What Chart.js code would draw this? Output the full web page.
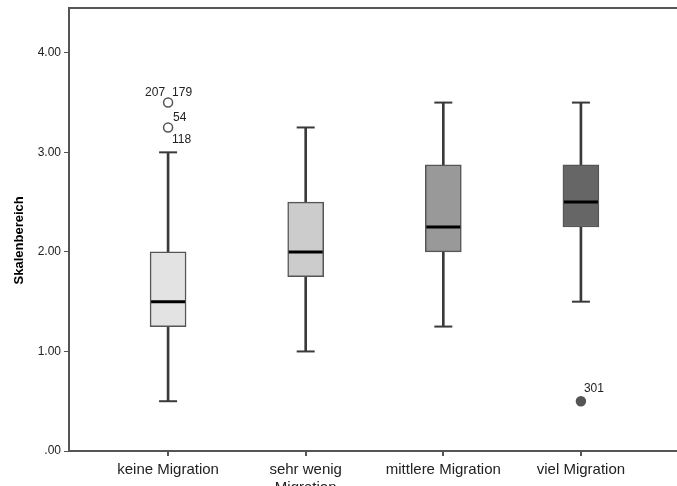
<!DOCTYPE html>
<html>
<head>
<meta charset="utf-8">
<script src="https://cdn.jsdelivr.net/npm/chart.js@4.4.0/dist/chart.umd.min.js"></script>
<style>
  html, body { margin: 0; padding: 0; background: #fff; overflow: hidden; }
  canvas { display: block; margin-top: -12px; }
</style>
</head>
<body>
<canvas id="boxChart" width="700" height="512"></canvas>
<script>
// Categories and box plot statistics
const categories = ['keine Migration', ['sehr wenig', 'Migration'], 'mittlere Migration', 'viel Migration'];
const mins    = [0.50, 1.00, 1.25, 1.50];
const q1s     = [1.25, 1.75, 2.00, 2.25];
const medians = [1.50, 2.00, 2.25, 2.50];
const q3s     = [2.00, 2.50, 2.875, 2.875];
const maxs    = [3.00, 3.25, 3.50, 3.50];

// Outliers: category index, value, case labels
const outlierCats   = [0, 0, 3];
const outlierValues = [3.50, 3.25, 0.50];
const outlierLabels = [['207', '179'], ['54', '118'], ['301']];

const yTicks = [0, 1, 2, 3, 4];
const yTickLabels = ['.00', '1.00', '2.00', '3.00', '4.00'];

const boxColors = ['#e3e3e3', '#cccccc', '#999999', '#666666'];

Chart.defaults.font.family = '"Liberation Sans", Arial, sans-serif';
Chart.defaults.color = '#222';

const pts = vals => vals.map((v, i) => ({ x: i, y: v }));

// top frame line of the plot area
const topFrame = {
    id: 'topFrame',
    beforeDatasetsDraw(chart) {
        const { ctx, chartArea } = chart;
        ctx.save();
        ctx.strokeStyle = '#555';
        ctx.lineWidth = 2;
        ctx.beginPath();
        ctx.moveTo(chartArea.left - 1, chartArea.top);
        ctx.lineTo(chartArea.right, chartArea.top);
        ctx.stroke();
        ctx.restore();
    }
};

// draws the case numbers next to the outlier circles
const outlierText = {
    id: 'outlierText',
    afterDatasetsDraw(chart) {
        const { ctx, scales } = chart;
        ctx.save();
        ctx.font = '12px "Liberation Sans", Arial, sans-serif';
        ctx.fillStyle = '#222';
        ctx.textBaseline = 'middle';
        outlierValues.forEach((v, i) => {
            const px = scales.x.getPixelForValue(outlierCats[i]);
            const py = scales.y.getPixelForValue(v);
            const labels = outlierLabels[i];
            if (labels.length === 2 && i === 0) {
                ctx.textAlign = 'right';
                ctx.fillText(labels[0], px - 3, py - 10);
                ctx.textAlign = 'left';
                ctx.fillText(labels[1], px + 4, py - 10);
            } else if (labels.length === 2) {
                ctx.textAlign = 'left';
                ctx.fillText(labels[0], px + 5, py - 10);
                ctx.fillText(labels[1], px + 4, py + 12);
            } else {
                ctx.textAlign = 'left';
                ctx.fillText(labels[0], px + 3, py - 13);
            }
        });
        ctx.restore();
    }
};

const ctx = document.getElementById('boxChart').getContext('2d');

new Chart(ctx, {
    type: 'bar',
    data: {
        datasets: [
            {
                // lower whiskers
                type: 'bar',
                data: categories.map((c, i) => ({ x: i, y: [mins[i], q1s[i]] })),
                backgroundColor: '#3a3a3a',
                barThickness: 2,
                grouped: false,
                order: 4
            },
            {
                // upper whiskers
                type: 'bar',
                data: categories.map((c, i) => ({ x: i, y: [q3s[i], maxs[i]] })),
                backgroundColor: '#3a3a3a',
                barThickness: 2,
                grouped: false,
                order: 4
            },
            {
                // boxes
                type: 'bar',
                data: categories.map((c, i) => ({ x: i, y: [q1s[i], q3s[i]] })),
                backgroundColor: boxColors,
                borderColor: '#555',
                borderWidth: 1.5,
                borderSkipped: false,
                barThickness: 36,
                grouped: false,
                order: 2
            },
            {
                // whisker caps
                type: 'line',
                data: pts(mins).concat(pts(maxs)),
                showLine: false,
                pointStyle: 'line',
                pointRadius: 9,
                pointBorderWidth: 2,
                pointBorderColor: '#3a3a3a',
                order: 3
            },
            {
                // medians
                type: 'line',
                data: pts(medians),
                showLine: false,
                pointStyle: 'line',
                pointRadius: 17,
                pointBorderWidth: 3,
                pointBorderColor: '#000',
                order: 1
            },
            {
                // outliers
                type: 'line',
                data: outlierValues.map((v, i) => ({ x: outlierCats[i], y: v })),
                showLine: false,
                pointStyle: 'circle',
                pointRadius: 4.5,
                pointBorderWidth: 1.5,
                pointBorderColor: '#555',
                pointBackgroundColor: outlierCats.map(c => c === 3 ? '#555' : '#fff'),
                order: 0
            }
        ]
    },
    options: {
        responsive: false,
        animation: false,
        events: [],
        layout: { padding: { top: 7, right: 15, left: 0, bottom: 0 } },
        plugins: {
            legend: { display: false },
            tooltip: { enabled: false }
        },
        scales: {
            x: {
                type: 'linear',
                position: 'bottom',
                min: -0.72,
                max: 3.72,
                offset: false,
                afterBuildTicks: s => { s.ticks = categories.map((c, i) => ({ value: i })); },
                afterFit: s => { s.height = 49; },
                ticks: {
                    callback: v => categories[v],
                    font: { size: 15 },
                    color: '#222',
                    padding: 5,
                    maxRotation: 0,
                    autoSkip: false
                },
                grid: { display: true, drawOnChartArea: false, offset: false, tickLength: 5, color: '#555', lineWidth: 2 },
                border: { display: true, color: '#555', width: 2 }
            },
            y: {
                min: 0,
                max: 4.45,
                afterBuildTicks: s => { s.ticks = yTicks.map(v => ({ value: v })); },
                afterFit: s => { s.width = 69; },
                ticks: {
                    callback: (v, i) => yTickLabels[i],
                    font: { size: 12 },
                    color: '#222',
                    padding: 3
                },
                grid: { display: true, drawOnChartArea: false, tickLength: 5, color: '#555', lineWidth: 1 },
                border: { display: true, color: '#555', width: 2 },
                title: {
                    display: true,
                    text: 'Skalenbereich      ',
                    font: { size: 13, weight: 'bold' },
                    color: '#000',
                    padding: { top: 12, bottom: 4 }
                }
            }
        }
    },
    plugins: [topFrame, outlierText]
});
</script>
</body>
</html>
